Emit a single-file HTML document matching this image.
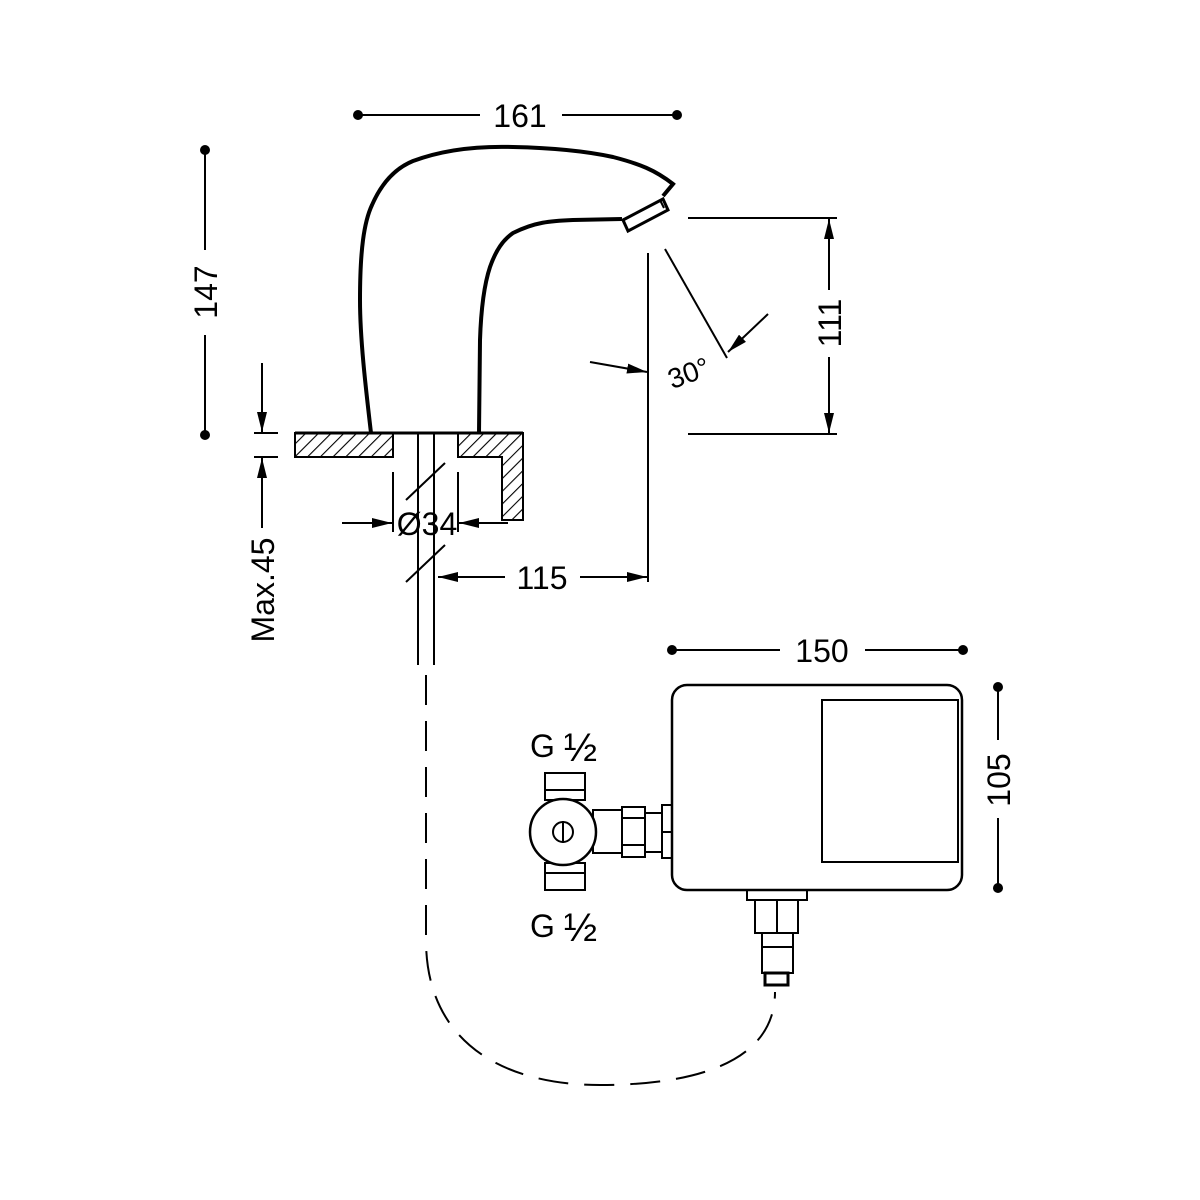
<!DOCTYPE html>
<html><head><style>body{margin:0;background:#fff}svg{display:block}text{font-family:"Liberation Sans",sans-serif;font-size:32px;fill:#000}</style></head><body>
<svg width="1200" height="1200" viewBox="0 0 1200 1200" xmlns="http://www.w3.org/2000/svg">
<defs>
<marker id="a" viewBox="0 0 20 10" refX="20" refY="5" markerWidth="20" markerHeight="10" markerUnits="userSpaceOnUse" orient="auto"><path d="M0,0 L20,5 L0,10 Z"/></marker>
<pattern id="h" width="9" height="9" patternUnits="userSpaceOnUse" patternTransform="rotate(45)"><line x1="0" y1="0" x2="0" y2="9" stroke="#000" stroke-width="2.2"/></pattern>
</defs>
<g stroke="#000" fill="none" stroke-width="2">
<circle cx="358" cy="115" r="4" fill="#000"/><circle cx="677" cy="115" r="4" fill="#000"/>
<line x1="358" y1="115" x2="480" y2="115"/><line x1="562" y1="115" x2="677" y2="115"/>
<circle cx="205" cy="150" r="4" fill="#000"/><circle cx="205" cy="435" r="4" fill="#000"/>
<line x1="205" y1="150" x2="205" y2="250"/><line x1="205" y1="335" x2="205" y2="435"/>
<line x1="688" y1="218" x2="837" y2="218"/><line x1="688" y1="434" x2="837" y2="434"/>
<line x1="829" y1="290" x2="829" y2="219" marker-end="url(#a)"/><line x1="829" y1="357" x2="829" y2="433" marker-end="url(#a)"/>
<path stroke-width="4" d="M371,433 C366,390 360,340 360,300 C360,250 364,222 372,205 C382,182 396,168 413,161 C445,149 480,146 513,147 C560,148 590,152 613,157 C640,164 655,170 673,184 L663,196"/>
<path stroke-width="4" d="M479,433 L480,340 C481,310 484,285 490,267 C496,250 503,240 513,233 C535,222 550,221 573,220 L622,219"/>
<path stroke-width="3" d="M623,220 L663,199 L668,210 L628,231 Z"/>
<line x1="660" y1="200" x2="664" y2="208" stroke-width="2"/>
<path fill="url(#h)" d="M295,433 L393,433 L393,457 L295,457 Z"/>
<path fill="url(#h)" d="M458,433 L523,433 L523,520 L502,520 L502,457 L458,457 Z"/>
<line x1="295" y1="433" x2="523" y2="433" stroke-width="3"/>
<line x1="418" y1="433" x2="418" y2="665"/><line x1="434" y1="433" x2="434" y2="665"/>
<line x1="406" y1="500" x2="445" y2="463"/><line x1="406" y1="582" x2="445" y2="545"/>
<line x1="393" y1="472" x2="393" y2="532"/><line x1="458" y1="472" x2="458" y2="532"/>
<line x1="342" y1="523" x2="392" y2="523" marker-end="url(#a)"/><line x1="508" y1="523" x2="459" y2="523" marker-end="url(#a)"/>
<line x1="648" y1="253" x2="648" y2="582"/>
<line x1="505" y1="577" x2="438" y2="577" marker-end="url(#a)"/><line x1="580" y1="577" x2="647" y2="577" marker-end="url(#a)"/>
<line x1="590" y1="362" x2="647" y2="372" marker-end="url(#a)"/>
<line x1="665" y1="249" x2="727" y2="358"/>
<line x1="768" y1="314" x2="728" y2="352" marker-end="url(#a)"/>
<line x1="262" y1="363" x2="262" y2="432" marker-end="url(#a)"/><line x1="262" y1="528" x2="262" y2="458" marker-end="url(#a)"/>
<line x1="254" y1="433" x2="278" y2="433"/><line x1="254" y1="457" x2="278" y2="457"/>
<circle cx="672" cy="650" r="4" fill="#000"/><circle cx="963" cy="650" r="4" fill="#000"/>
<line x1="672" y1="650" x2="780" y2="650"/><line x1="865" y1="650" x2="963" y2="650"/>
<circle cx="998" cy="687" r="4" fill="#000"/><circle cx="998" cy="888" r="4" fill="#000"/>
<line x1="998" y1="687" x2="998" y2="740"/><line x1="998" y1="818" x2="998" y2="888"/>
<rect x="672" y="685" width="290" height="205" rx="15" stroke-width="2.5"/>
<rect x="822" y="700" width="136" height="162"/>
<rect x="545" y="773" width="40" height="27"/><line x1="545" y1="790" x2="585" y2="790"/>
<rect x="545" y="863" width="40" height="27"/><line x1="545" y1="873" x2="585" y2="873"/>
<rect x="593" y="810" width="29" height="43"/>
<rect x="622" y="807" width="23" height="50"/><line x1="622" y1="818" x2="645" y2="818"/><line x1="622" y1="845" x2="645" y2="845"/>
<rect x="645" y="813" width="17" height="39"/>
<rect x="662" y="805" width="10" height="53"/><line x1="662" y1="832" x2="672" y2="832"/>
<circle cx="563" cy="832" r="33" fill="#fff" stroke-width="2.5"/>
<circle cx="563" cy="832" r="10"/><line x1="563" y1="821" x2="563" y2="843"/>
<rect x="747" y="890" width="60" height="10"/>
<rect x="755" y="900" width="43" height="33"/><line x1="777" y1="900" x2="777" y2="933"/>
<rect x="762" y="933" width="31" height="14"/>
<rect x="762" y="947" width="31" height="26"/>
<rect x="765" y="973" width="23" height="12" stroke-width="3"/>
<path stroke-dasharray="30,16" d="M426,675 L426,940 C426,1040 500,1085 600,1085 C700,1085 775,1060 775,992"/>
</g>
<text x="520" y="127" text-anchor="middle">161</text>
<text transform="translate(217,292) rotate(-90)" text-anchor="middle">147</text>
<text transform="translate(841,323) rotate(-90)" text-anchor="middle">111</text>
<text transform="translate(274,590) rotate(-90)" text-anchor="middle">Max.45</text>
<text x="427" y="535" text-anchor="middle">Ø34</text>
<text x="542" y="589" text-anchor="middle">115</text>
<text transform="translate(692,382) rotate(-20)" text-anchor="middle" style="font-size:28px">30°</text>
<text x="822" y="662" text-anchor="middle">150</text>
<text transform="translate(1010,780) rotate(-90)" text-anchor="middle">105</text>
<text x="530" y="757">G <tspan style="font-size:40px" dy="4">½</tspan></text>
<text x="530" y="937">G <tspan style="font-size:40px" dy="4">½</tspan></text>
</svg>
</body></html>
